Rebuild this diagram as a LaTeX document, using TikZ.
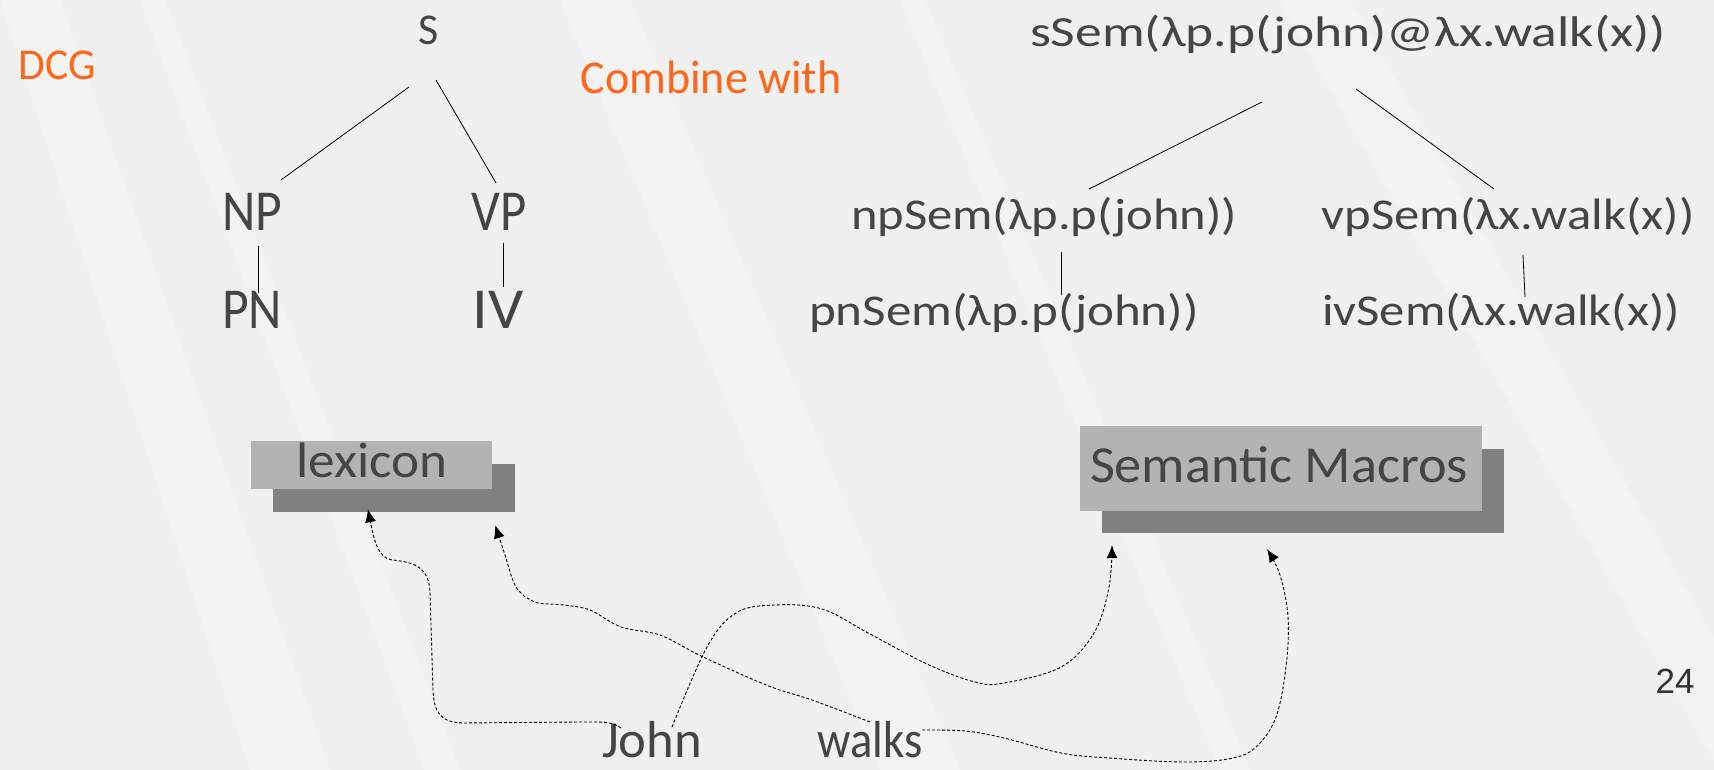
\documentclass[tikz,border=0pt]{standalone}
\usepackage{fontspec}
\usepackage{graphicx}
\usetikzlibrary{calc,arrows.meta}
\newfontfamily\handfont{Carlito}
\newfontfamily\numfont{Liberation Sans}
\definecolor{ink}{HTML}{454545}
\definecolor{accent}{HTML}{FF661A}
\definecolor{boxfront}{HTML}{B3B3B3}
\definecolor{boxback}{HTML}{808080}
\definecolor{paper}{HTML}{F0F0F0}
% stretch a label horizontally to a given width, keeping its height
\newcommand{\wfit}[2]{\resizebox{#1pt}{\height}{#2}}

\begin{document}
\begin{tikzpicture}[x=1pt,y=-1pt,
  hand/.style={font=\handfont\fontsize{#1}{#1}\selectfont},
  lbl/.style={inner sep=0pt, anchor=base, text=ink},
  note/.style={lbl, text=accent},
  branch/.style={draw=black, line width=0.8pt},
  link/.style={draw=black, line width=0.9pt, dash pattern=on 3pt off 2pt},
  tip/.style={-{Latex[length=13pt,width=11pt]}},
  panel/.style={rectangle, inner sep=0pt, fill=boxfront},
  panelshade/.style={rectangle, inner sep=0pt, fill=boxback}]

% paper with faint brushed streaks
\fill[paper] (0,0) rectangle (1714,770);
\useasboundingbox (0,0) rectangle (1714,770);
\begin{scope}[white, opacity=0.25]
  \fill (0,0) -- (60,0) -- (330,770) -- (250,770) -- cycle;
  \fill (140,0) -- (165,0) -- (460,770) -- (425,770) -- cycle;
  \fill (560,0) -- (630,0) -- (960,770) -- (880,770) -- cycle;
  \fill (900,0) -- (925,0) -- (1250,770) -- (1220,770) -- cycle;
  \fill (1280,0) -- (1350,0) -- (1714,640) -- (1714,760) -- cycle;
\end{scope}

% headings
\node[note, hand=44] (dcg) at (57,80) {\wfit{77}{DCG}};
\node[note, hand=47] (comb) at (711,94) {\wfit{261}{Combine with}};

% syntax tree
\node[lbl, hand=44] (s) at (429,45) {S};
\node[lbl, hand=58] (np) at (252,230) {\wfit{60}{NP}};
\node[lbl, hand=58] (vp) at (499,230) {\wfit{55}{VP}};
\node[lbl, hand=58] (pn) at (252,328) {\wfit{60}{PN}};
\node[lbl, hand=58] (iv) at (498,328) {\wfit{51}{IV}};

\draw[branch] ($(s.base)+(-20,42)$) -- ($(np.base)+(29,-50)$);
\draw[branch] ($(s.base)+(7,35)$) -- ($(vp.base)+(-3,-47)$);
\draw[branch] ($(np.base)+(6,16)$) -- ($(pn.base)+(6,-35)$);
\draw[branch] ($(vp.base)+(4,13)$) -- ($(iv.base)+(5,-41)$);

% semantic tree
\node[lbl, hand=43] (ssem) at (1348,47) {\wfit{636}{sSem(λp.p(john)@λx.walk(x))}};
\node[lbl, hand=44] (npsem) at (1044,230) {\wfit{386}{npSem(λp.p(john))}};
\node[lbl, hand=44] (vpsem) at (1508,230) {\wfit{373}{vpSem(λx.walk(x))}};
\node[lbl, hand=44] (pnsem) at (1004,325) {\wfit{390}{pnSem(λp.p(john))}};
\node[lbl, hand=44] (ivsem) at (1501,325) {\wfit{358}{ivSem(λx.walk(x))}};

\draw[branch] ($(ssem.base)+(-86,55)$) -- ($(npsem.base)+(45,-41)$);
\draw[branch] ($(ssem.base)+(8,42)$) -- ($(vpsem.base)+(-14,-41)$);
\draw[branch] ($(npsem.base)+(17,22)$) -- ($(pnsem.base)+(57,-30)$);
\draw[branch] ($(vpsem.base)+(15,25)$) -- ($(ivsem.base)+(24,-28)$);

% resource boxes
\node[panelshade, minimum width=242pt, minimum height=48pt] (lexs) at (394,488) {};
\node[panel, minimum width=241pt, minimum height=48pt] (lexf) at (371.5,465) {};
\node[lbl, hand=50] (lex) at (372,477) {\wfit{151}{lexicon}};

\node[panelshade, minimum width=402pt, minimum height=84pt] (sems) at (1303,491) {};
\node[panel, minimum width=402pt, minimum height=85pt] (semf) at (1281,468.5) {};
\node[lbl, hand=52] (sem) at (1279,482) {\wfit{378}{Semantic Macros}};

% words
\node[lbl, hand=52] (john) at (652,757) {\wfit{100}{John}};
\node[lbl, hand=52] (walks) at (870,757) {\wfit{105}{walks}};

% page number
\node[lbl, font=\numfont\fontsize{35}{35}\selectfont, text=black!80] (pg) at (1675,693) {24};

% lookups
\coordinate (a1s) at ($(john.base)+(-31,-29)$);
\coordinate (a1e) at ($(lexs.south)+(-26,-3)$);
\coordinate (a2s) at ($(walks.base)+(0,-35)$);
\coordinate (a2e) at ($(lexs.south east)+(-20,13)$);
\coordinate (a3s) at ($(john.base)+(20,-30)$);
\coordinate (a3e) at ($(sems.south)+(-191,12)$);
\coordinate (a4s) at ($(walks.base)+(52,-27)$);
\coordinate (a4e) at ($(sems.south)+(-36,16)$);

\draw[link, tip] (a1s) .. controls (612,721) and (600,722) .. (580,722)
  -- (462,723) .. controls (440,722) and (434,712) .. (433,690)
  -- (430,592) .. controls (429,568) and (415,562) .. (392,560)
  .. controls (378,558) and (374,540) .. (a1e);
\draw[link, tip] plot[smooth, tension=0.55] coordinates {(a2s) (812,700) (774,688) (736,672)
  (697,654) (660,635) (621,627) (590,610) (564,605) (535,602) (516,587) (505,555) (a2e)};
\draw[link, tip] plot[smooth, tension=0.6] coordinates {(a3s) (707,647) (736,613) (774,605)
  (822,609) (870,634) (927,664) (975,682) (1004,683) (1061,667) (1094,633) (1109,587) (a3e)};
\draw[link, tip] plot[smooth, tension=0.6] coordinates {(a4s) (965,731) (1004,738) (1061,753)
  (1109,758) (1185,762) (1233,758) (1257,746) (1276,717) (1286,667) (1288,617) (1280,575) (a4e)};
\end{tikzpicture}
\end{document}
